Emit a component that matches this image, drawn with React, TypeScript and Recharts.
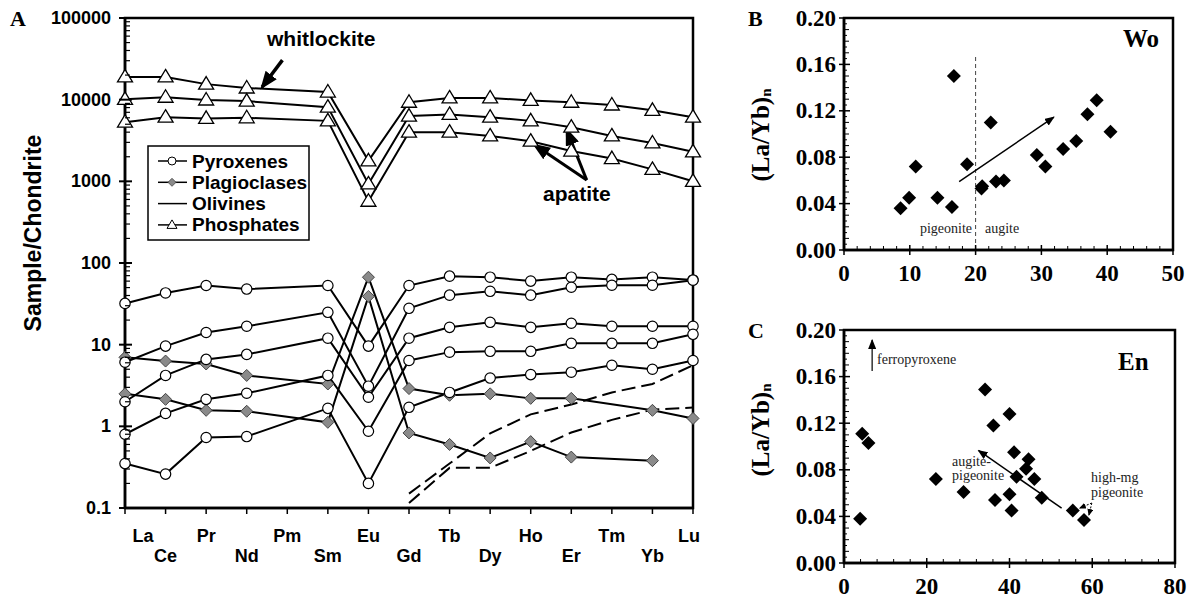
import React from 'react';
import { LineChart, Line, XAxis, YAxis, ScatterChart, Scatter, ReferenceLine, ReferenceArea } from 'recharts';

// ---- panel A: REE patterns (Sample/Chondrite) ----
const elements = ['La', 'Ce', 'Pr', 'Nd', 'Pm', 'Sm', 'Eu', 'Gd', 'Tb', 'Dy', 'Ho', 'Er', 'Tm', 'Yb', 'Lu'];
const N = null;

const pyx1 = [32, 43, 53, 48, N, 53, 9.6, 53, 69, 67, 60, 67, 63, 67, 62];
const pyx2 = [6.1, 9.6, 14.1, 16.8, N, 24.9, 3.1, 27.9, 40.4, 45, 40.4, 50.5, 53.4, 53.4, 61.6];
const pyx3 = [2.0, 4.2, 6.6, 7.6, N, 12.0, 2.27, 12.0, 16.3, 18.8, 16.3, 18.3, 16.8, 16.8, 16.8];
const pyx4 = [0.8, 1.44, 2.14, 2.54, N, 4.2, 0.87, 6.4, 8.1, 8.3, 8.3, 10.4, 10.4, 10.4, 13.4];
const pyx5 = [0.35, 0.26, 0.73, 0.75, N, 1.66, 0.2, 1.71, 2.6, 3.9, 4.3, 4.6, 5.6, 5.0, 6.4];

const plg1 = [7.0, 6.3, 5.8, 4.2, N, 3.3, 67, 2.9, 2.4, 2.5, 2.2, 2.2, N, 1.57, 1.25];
const plg2 = [2.5, 2.14, 1.57, 1.53, N, 1.12, 39, 0.83, 0.6, 0.41, 0.65, 0.42, N, 0.38, N];

const ol1 = [N, N, N, N, N, N, N, 0.15, 0.35, 0.82, 1.4, 1.85, 2.6, 3.3, 5.6];
const ol2 = [N, N, N, N, N, N, N, 0.115, 0.31, 0.31, 0.5, 0.84, 1.2, 1.6, 1.7];

const ph1 = [19000, 19000, 15500, 13900, N, 12400, 1780, 9300, 10500, 10500, 9800, 9300, 8600, 7400, 6100];
const ph2 = [10100, 10700, 9900, 9600, N, 8100, 930, 6300, 6600, 6100, 5500, 4600, 3600, 2950, 2300];
const ph3 = [5300, 6100, 5900, 6000, N, 5500, 570, 4000, 4000, 3600, 3100, 2350, 1900, 1400, 1000];

const yMajorA = [0.1, 1, 10, 100, 1000, 10000, 100000];
const yLabelsA = ['0.1', '1', '10', '100', '1000', '10000', '100000'];

// ---- panel B: (La/Yb)n vs Wo ----
const woX = [8.6, 9.9, 10.9, 14.2, 16.4, 16.7, 18.7, 20.9, 21.0, 22.3, 23.1, 24.3, 29.3, 30.6, 33.3, 35.3, 37.0, 38.4, 40.5];
const woY = [0.036, 0.045, 0.072, 0.045, 0.037, 0.150, 0.074, 0.053, 0.055, 0.110, 0.059, 0.060, 0.082, 0.072, 0.087, 0.094, 0.117, 0.129, 0.102];

// ---- panel C: (La/Yb)n vs En ----
const enX = [3.9, 4.4, 5.9, 22.2, 28.9, 34.1, 36.1, 36.5, 40.0, 40.0, 40.5, 41.1, 41.7, 44.0, 44.6, 46.0, 47.8, 55.3, 58.0];
const enY = [0.038, 0.111, 0.103, 0.072, 0.061, 0.149, 0.118, 0.054, 0.128, 0.059, 0.045, 0.095, 0.074, 0.081, 0.089, 0.072, 0.056, 0.045, 0.037];

const ratioTicks = [0, 0.04, 0.08, 0.12, 0.16, 0.2];
const woTicks = [0, 10, 20, 30, 40, 50];
const enTicks = [0, 20, 40, 60, 80];

const SANS = '"Liberation Sans", Arial, sans-serif';
const SERIF = '"Liberation Serif", "Times New Roman", serif';

const rows = elements.map((el, i) => ({
  i, el,
  pyx1: pyx1[i], pyx2: pyx2[i], pyx3: pyx3[i], pyx4: pyx4[i], pyx5: pyx5[i],
  plg1: plg1[i], plg2: plg2[i], ol1: ol1[i], ol2: ol2[i],
  ph1: ph1[i], ph2: ph2[i], ph3: ph3[i],
}));
const woData = woX.map((x, k) => ({ x, y: woY[k] }));
const enData = enX.map((x, k) => ({ x, y: enY[k] }));

// minor ticks for log axis (2..9 in every decade)
const logTicks: number[] = [];
yMajorA.forEach((m, k) => {
  logTicks.push(m);
  if (k < yMajorA.length - 1) for (let j = 2; j <= 9; j++) logTicks.push(m * j);
});
const stepTicks = (max: number, step: number) => {
  const out: number[] = [];
  for (let v = 0; v <= max + 1e-9; v += step) out.push(Math.round(v * 1000) / 1000);
  return out;
};

const makeDot = (kind: string, name: string) => (p: any) => {
  const key = `${name}-${p.index}`;
  if (p.cx == null || p.cy == null || isNaN(p.cy)) return <g key={key} />;
  const { cx, cy } = p;
  if (kind === 'circle') return <circle key={key} cx={cx} cy={cy} r={5.2} fill="#fff" stroke="#000" strokeWidth={1.2} />;
  if (kind === 'diamond')
    return <path key={key} d={`M${cx},${cy - 6} L${cx + 6},${cy} L${cx},${cy + 6} L${cx - 6},${cy} Z`} fill="#8a8a8a" stroke="#444" strokeWidth={1} />;
  return <path key={key} d={`M${cx},${cy - 7.5} L${cx + 7.5},${cy + 5} L${cx - 7.5},${cy + 5} Z`} fill="#fff" stroke="#000" strokeWidth={1.3} />;
};

const LogTick = (p: any) => {
  const v = p.payload.value;
  const k = yMajorA.findIndex((m) => Math.abs(m - v) / m < 1e-6);
  const { x, y } = p;
  if (k < 0) return <line x1={x} x2={x + 5} y1={y} y2={y} stroke="#000" strokeWidth={1.2} />;
  return (
    <g>
      <line x1={x - 6} x2={x + 7} y1={y} y2={y} stroke="#000" strokeWidth={2} />
      <text x={x - 14} y={y} textAnchor="end" dominantBaseline="central" fontFamily={SANS} fontWeight="bold" fontSize={18} fill="#000">
        {yLabelsA[k]}
      </text>
    </g>
  );
};

const ElemTick = (p: any) => {
  const idx = p.payload.value;
  const { x, y } = p;
  const dx = idx === 0 ? 18 : idx === 14 ? -4 : 0;
  const dy = idx % 2 === 0 ? 28 : 48;
  return (
    <g>
      <line x1={x} x2={x} y1={y} y2={y + 6} stroke="#000" strokeWidth={1.5} />
      <text x={x + dx} y={y + dy} textAnchor="middle" dominantBaseline="central" fontFamily={SANS} fontWeight="bold" fontSize={18} fill="#000">
        {elements[idx]}
      </text>
    </g>
  );
};

const RatioTick = (p: any) => {
  const v = p.payload.value;
  const { x, y } = p;
  const n = Math.round(v * 200);
  const lab = ratioTicks.findIndex((t) => Math.abs(t - v) < 1e-6);
  if (lab < 0) return <line x1={x} x2={x + (n % 2 === 0 ? 5 : 3)} y1={y} y2={y} stroke="#000" strokeWidth={1} />;
  return (
    <g>
      <line x1={x - 5} x2={x + 6} y1={y} y2={y} stroke="#000" strokeWidth={1.5} />
      <text x={x - 8} y={y} textAnchor="end" dominantBaseline="central" fontFamily={SERIF} fontWeight="bold" fontSize={23} fill="#000">
        {v.toFixed(2)}
      </text>
    </g>
  );
};

const makeXTick = (labels: number[]) => (p: any) => {
  const v = p.payload.value;
  const { x, y } = p;
  const lab = labels.indexOf(v);
  if (lab < 0) return <line x1={x} x2={x} y1={y} y2={y - 4} stroke="#000" strokeWidth={1} />;
  return (
    <g>
      <line x1={x} x2={x} y1={y - 5} y2={y + 5} stroke="#000" strokeWidth={1.5} />
      <text x={x} y={y + 23} textAnchor="middle" dominantBaseline="central" fontFamily={SERIF} fontWeight="bold" fontSize={23} fill="#000">
        {v}
      </text>
    </g>
  );
};

const arrow = (marker: string, w: number, dash?: string) => (p: any) => (
  <line x1={p.x1} y1={p.y1} x2={p.x2} y2={p.y2} stroke="#000" strokeWidth={w} strokeDasharray={dash} markerEnd={`url(#${marker})`} />
);

const diamondShape = (p: any) => {
  const { cx, cy } = p;
  return <path d={`M${cx},${cy - 7} L${cx + 7},${cy} L${cx},${cy + 7} L${cx - 7},${cy} Z`} fill="#000" />;
};

const seriesA = [
  { key: 'ol1', dot: 'none', dash: '14 6' },
  { key: 'ol2', dot: 'none', dash: '14 6' },
  { key: 'plg1', dot: 'diamond' },
  { key: 'plg2', dot: 'diamond' },
  { key: 'pyx1', dot: 'circle' },
  { key: 'pyx2', dot: 'circle' },
  { key: 'pyx3', dot: 'circle' },
  { key: 'pyx4', dot: 'circle' },
  { key: 'pyx5', dot: 'circle' },
  { key: 'ph1', dot: 'triangle' },
  { key: 'ph2', dot: 'triangle' },
  { key: 'ph3', dot: 'triangle' },
];

const legendItems = [
  { name: 'Pyroxenes', kind: 'circle' },
  { name: 'Plagioclases', kind: 'diamond' },
  { name: 'Olivines', kind: 'none' },
  { name: 'Phosphates', kind: 'triangle' },
];

const App: React.FC = () => {
  return (
    <div style={{ position: 'absolute', left: 0, top: 0, width: 1195, height: 600, background: '#fff' }}>
      <svg width={0} height={0} style={{ position: 'absolute' }}>
        <defs>
          <marker id="hA" markerWidth={18} markerHeight={14} refX={15} refY={7} orient="auto" markerUnits="userSpaceOnUse">
            <path d="M0,0 L18,7 L0,14 Z" fill="#000" />
          </marker>
          <marker id="hS" markerWidth={10} markerHeight={8} refX={9} refY={4} orient="auto" markerUnits="userSpaceOnUse">
            <path d="M0,0 L10,4 L0,8 Z" fill="#000" />
          </marker>
          <marker id="hT" markerWidth={7} markerHeight={6} refX={6} refY={3} orient="auto" markerUnits="userSpaceOnUse">
            <path d="M0,0 L7,3 L0,6 Z" fill="#000" />
          </marker>
        </defs>
      </svg>

      {/* Panel A */}
      <div style={{ position: 'absolute', left: 0, top: 0 }}>
        <LineChart width={720} height={600} data={rows} margin={{ top: 18, right: 27, bottom: 22, left: 0 }}>
          <XAxis type="number" dataKey="i" domain={[0, 14]} ticks={elements.map((_, k) => k)} interval={0}
            tickSize={0} tickMargin={0} tickLine={false} height={70} tick={<ElemTick />}
            axisLine={{ stroke: '#000', strokeWidth: 2.5 }} />
          <YAxis type="number" scale="log" domain={[0.1, 100000]} allowDataOverflow ticks={logTicks} interval={0}
            tickSize={0} tickMargin={0} tickLine={false} width={125} tick={<LogTick />}
            axisLine={{ stroke: '#000', strokeWidth: 2.5 }} />
          {seriesA.map((s) => (
            <Line key={s.key} type="linear" dataKey={s.key} stroke="#000" strokeWidth={2}
              strokeDasharray={s.dash} connectNulls isAnimationActive={false} activeDot={false}
              dot={s.dot === 'none' ? false : makeDot(s.dot, s.key)} />
          ))}
          <ReferenceArea x1={0} x2={14} y1={0.1} y2={100000} fill="none" stroke="#000" strokeWidth={2.5} ifOverflow="visible" />
          <ReferenceLine segment={[{ x: 3.88, y: 30500 }, { x: 3.38, y: 14300 }]} shape={arrow('hA', 3.5)} ifOverflow="visible" />
          <ReferenceLine segment={[{ x: 11.38, y: 1035 }, { x: 10.1, y: 2780 }]} shape={arrow('hA', 3)} ifOverflow="visible" />
          <ReferenceLine segment={[{ x: 11.38, y: 1035 }, { x: 10.89, y: 4240 }]} shape={arrow('hA', 3)} ifOverflow="visible" />
        </LineChart>
      </div>

      {/* Panel B */}
      <div style={{ position: 'absolute', left: 700, top: 0 }}>
        <ScatterChart width={495} height={290} margin={{ top: 18, right: 22, bottom: 10, left: 0 }}>
          <XAxis type="number" dataKey="x" domain={[0, 50]} ticks={stepTicks(50, 2)} interval={0}
            tickSize={0} tickMargin={0} tickLine={false} height={30} tick={makeXTick(woTicks)}
            axisLine={{ stroke: '#000', strokeWidth: 2.5 }} />
          <YAxis type="number" dataKey="y" domain={[0, 0.2]} ticks={stepTicks(0.2, 0.005)} interval={0}
            tickSize={0} tickMargin={0} tickLine={false} width={144} tick={<RatioTick />}
            axisLine={{ stroke: '#000', strokeWidth: 2.5 }} />
          <ReferenceArea x1={0} x2={50} y1={0} y2={0.2} fill="none" stroke="#000" strokeWidth={2.5} ifOverflow="visible" />
          <ReferenceLine segment={[{ x: 20, y: 0 }, { x: 20, y: 0.167 }]} stroke="#444" strokeWidth={1} strokeDasharray="4 3" />
          <ReferenceLine segment={[{ x: 17.5, y: 0.059 }, { x: 31.9, y: 0.1145 }]} shape={arrow('hS', 1.5)} />
          <Scatter data={woData} shape={diamondShape} isAnimationActive={false} />
        </ScatterChart>
      </div>

      {/* Panel C */}
      <div style={{ position: 'absolute', left: 700, top: 290 }}>
        <ScatterChart width={495} height={310} margin={{ top: 40, right: 20, bottom: 7, left: 0 }}>
          <XAxis type="number" dataKey="x" domain={[0, 80]} ticks={stepTicks(80, 4)} interval={0}
            tickSize={0} tickMargin={0} tickLine={false} height={30} tick={makeXTick(enTicks)}
            axisLine={{ stroke: '#000', strokeWidth: 2.5 }} />
          <YAxis type="number" dataKey="y" domain={[0, 0.2]} ticks={stepTicks(0.2, 0.005)} interval={0}
            tickSize={0} tickMargin={0} tickLine={false} width={144} tick={<RatioTick />}
            axisLine={{ stroke: '#000', strokeWidth: 2.5 }} />
          <ReferenceArea x1={0} x2={80} y1={0} y2={0.2} fill="none" stroke="#000" strokeWidth={2.5} ifOverflow="visible" />
          <ReferenceLine segment={[{ x: 6.8, y: 0.1648 }, { x: 6.8, y: 0.1915 }]} shape={arrow('hS', 1.2)} />
          <ReferenceLine segment={[{ x: 52.6, y: 0.0471 }, { x: 32.5, y: 0.0966 }]} shape={arrow('hS', 1.5)} />
          <ReferenceLine segment={[{ x: 59.9, y: 0.0515 }, { x: 57.0, y: 0.0472 }]} shape={arrow('hT', 1, '2 1.5')} />
          <ReferenceLine segment={[{ x: 59.9, y: 0.0515 }, { x: 59.2, y: 0.0412 }]} shape={arrow('hT', 1, '2 1.5')} />
          <Scatter data={enData} shape={diamondShape} isAnimationActive={false} />
        </ScatterChart>
      </div>

      {/* texts and legend */}
      <svg width={1195} height={600} style={{ position: 'absolute', left: 0, top: 0, pointerEvents: 'none' }}>
        <text x={10} y={18} dominantBaseline="central" fontFamily={SERIF} fontWeight="bold" fontSize={22}>A</text>
        <text x={33} y={233} textAnchor="middle" dominantBaseline="central" fontFamily={SANS} fontWeight="bold" fontSize={23}
          transform="rotate(-90 33 233)">Sample/Chondrite</text>
        <text x={267} y={38} dominantBaseline="central" fontFamily={SANS} fontWeight="bold" fontSize={21}>whitlockite</text>
        <text x={543} y={193} dominantBaseline="central" fontFamily={SANS} fontWeight="bold" fontSize={21}>apatite</text>

        <rect x={148} y={146} width={161} height={94} fill="#fff" stroke="#000" strokeWidth={1.5} />
        {legendItems.map((it, k) => {
          const y = 161 + k * 21.3;
          return (
            <g key={it.name}>
              <line x1={158} x2={187} y1={y} y2={y} stroke="#000" strokeWidth={1.5} />
              {it.kind === 'circle' && <circle cx={172} cy={y} r={4} fill="#fff" stroke="#000" strokeWidth={1} />}
              {it.kind === 'diamond' && <path d={`M172,${y - 4} L176,${y} L172,${y + 4} L168,${y} Z`} fill="#8a8a8a" stroke="#444" strokeWidth={0.8} />}
              {it.kind === 'triangle' && <path d={`M172,${y - 5} L177,${y + 3.5} L167,${y + 3.5} Z`} fill="#fff" stroke="#000" strokeWidth={1} />}
              <text x={192} y={y} dominantBaseline="central" fontFamily={SANS} fontWeight="bold" fontSize={19}>{it.name}</text>
            </g>
          );
        })}

        <text x={748} y={18} dominantBaseline="central" fontFamily={SERIF} fontWeight="bold" fontSize={22}>B</text>
        <text x={1123} y={38} dominantBaseline="central" fontFamily={SERIF} fontWeight="bold" fontSize={25}>Wo</text>
        <text x={760} y={135} textAnchor="middle" dominantBaseline="central" fontFamily={SERIF} fontWeight="bold" fontSize={25}
          transform="rotate(-90 760 135)">(La/Yb)<tspan fontSize={15} dy={6}>n</tspan></text>
        <text x={972} y={228} textAnchor="end" dominantBaseline="central" fontFamily={SERIF} fontSize={14} fill="#222">pigeonite</text>
        <text x={985} y={228} dominantBaseline="central" fontFamily={SERIF} fontSize={14} fill="#222">augite</text>

        <text x={748} y={330} dominantBaseline="central" fontFamily={SERIF} fontWeight="bold" fontSize={22}>C</text>
        <text x={1118} y={361} dominantBaseline="central" fontFamily={SERIF} fontWeight="bold" fontSize={25}>En</text>
        <text x={760} y={430} textAnchor="middle" dominantBaseline="central" fontFamily={SERIF} fontWeight="bold" fontSize={25}
          transform="rotate(-90 760 430)">(La/Yb)<tspan fontSize={15} dy={6}>n</tspan></text>
        <text x={877} y={359} dominantBaseline="central" fontFamily={SERIF} fontSize={14} fill="#222">ferropyroxene</text>
        <text x={952} y={461} dominantBaseline="central" fontFamily={SERIF} fontSize={14} fill="#222">augite-</text>
        <text x={952} y={475} dominantBaseline="central" fontFamily={SERIF} fontSize={14} fill="#222">pigeonite</text>
        <text x={1091} y={477} dominantBaseline="central" fontFamily={SERIF} fontSize={14} fill="#222">high-mg</text>
        <text x={1091} y={492} dominantBaseline="central" fontFamily={SERIF} fontSize={14} fill="#222">pigeonite</text>
      </svg>
    </div>
  );
};

export default App;
